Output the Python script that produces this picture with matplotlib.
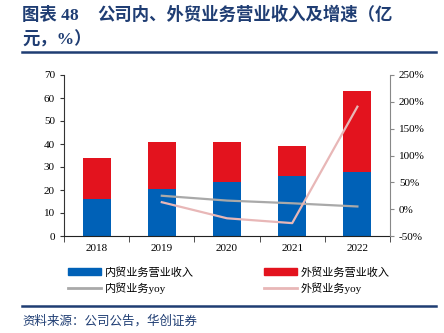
import matplotlib
matplotlib.use("Agg")
import matplotlib.pyplot as plt
import numpy as np
from matplotlib.patches import Patch
from matplotlib.lines import Line2D

plt.rcParams['font.family'] = ['Liberation Serif', 'Noto Sans CJK SC', 'DejaVu Sans']

years = ['2018', '2019', '2020', '2021', '2022']
domestic = [16.0, 20.3, 23.6, 26.2, 27.7]
foreign_total = [34.0, 40.7, 40.7, 39.0, 63.0]
foreign = [t - d for t, d in zip(foreign_total, domestic)]
dom_yoy_years = ['2019', '2020', '2021', '2022']
dom_yoy = [25, 16, 11, 5]
for_yoy = [13, -17, -26, 191]

left_ticks = [0, 10, 20, 30, 40, 50, 60, 70]
right_ticks = [-50, 0, 50, 100, 150, 200, 250]

c_blue = '#0061B7'
c_red = '#E3131E'
c_grey = '#A9A9A9'
c_pink = '#E8B7B7'
c_title = '#1F3D73'

fig = plt.figure(figsize=(4.44, 3.33), dpi=100)
ax = fig.add_axes([64/444, 1-236/333, (390-64)/444, (236-75)/333])
x = np.arange(len(years))
w = 0.43
ax.bar(x, domestic, w, color=c_blue, zorder=2)
ax.bar(x, foreign, w, bottom=domestic, color=c_red, zorder=2)
ax.set_xlim(-0.5, len(years)-0.5)
ax.set_ylim(0, 70)
ax.set_yticks(left_ticks)
ax.set_xticks(x)
ax.set_xticklabels(years)
ax.set_xticks(np.arange(-0.5, len(years), 1.0), minor=True)
ax.tick_params(axis='x', which='major', length=0, pad=6, labelsize=8)
ax.tick_params(axis='x', which='minor', length=4, direction='out', color='#333333')
ax.tick_params(axis='y', length=3, labelsize=8, color='#333333')
for s in ['top', 'right']:
    ax.spines[s].set_visible(False)
ax.spines['left'].set_color('#333333')
ax.spines['bottom'].set_color('#222222')

ax2 = ax.twinx()
xi = [years.index(y) for y in dom_yoy_years]
ax2.plot(xi, dom_yoy, color=c_grey, lw=1.6, zorder=3)
ax2.plot(xi, for_yoy, color=c_pink, lw=1.6, zorder=3)
ax2.set_ylim(-50, 250)
ax2.set_yticks(right_ticks)
ax2.set_yticklabels([f'{v}%' for v in right_ticks])
ax2.tick_params(axis='y', length=3, labelsize=8, color='#888888')
for s in ['top', 'left', 'bottom']:
    ax2.spines[s].set_visible(False)
ax2.spines['right'].set_color('#888888')

# title
tfam = ['Liberation Serif', 'Noto Sans CJK SC']
fig.text(22/444, 1-15/333, '图表 48', fontsize=12.5,
         fontweight='bold', color=c_title, va='center', ha='left', family=tfam)
fig.text(97/444, 1-15/333, '公司内、外贸业务营业收入及增速（亿', fontsize=12.5,
         fontweight='bold', color=c_title, va='center', ha='left', family=tfam)
fig.text(22/444, 1-40/333, '元，%）', fontsize=12.5, fontweight='bold', color=c_title,
         va='center', ha='left', family=tfam)
fig.add_artist(Line2D([22/444, 436/444], [1-52/333, 1-52/333], color=c_title, lw=1.8))
fig.add_artist(Line2D([22/444, 436/444], [1-305.5/333, 1-305.5/333], color=c_title, lw=1.8))
fig.text(22/444, 1-321/333, '资料来源：公司公告，华创证券', fontsize=9, color=c_title,
         style='italic', va='center', ha='left', family=['Noto Sans CJK SC'])

handles = [Patch(color=c_blue), Line2D([], [], color=c_grey, lw=2),
           Patch(color=c_red), Line2D([], [], color=c_pink, lw=2)]
labels = ['内贸业务营业收入', '内贸业务yoy', '外贸业务营业收入', '外贸业务yoy']
leg = fig.legend(handles, labels, ncol=2, loc='upper left',
                 bbox_to_anchor=(68/444, 1-267/333), frameon=False,
                 handlelength=3.0, handleheight=0.5,
                 columnspacing=6.3, labelspacing=0.4, handletextpad=0.3,
                 borderpad=0, borderaxespad=0,
                 prop={'family': ['Liberation Serif', 'Noto Sans CJK SC'], 'size': 8})

fig.savefig('out.png', dpi=100)
